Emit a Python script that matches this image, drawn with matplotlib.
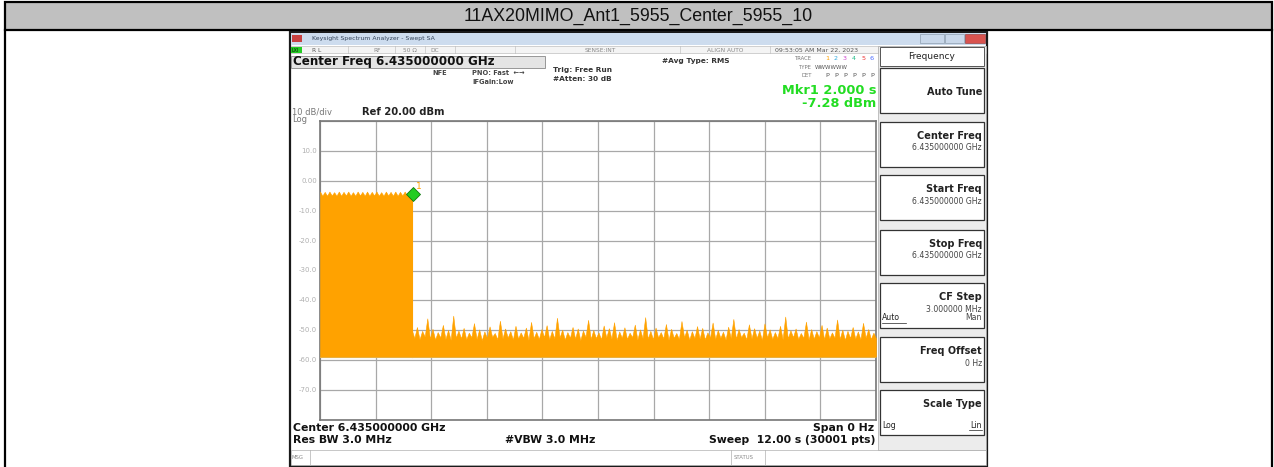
import numpy as np
import matplotlib
matplotlib.use("Agg")
import matplotlib.pyplot as plt
from matplotlib.patches import Rectangle

# ---- chart data ----
title = "11AX20MIMO_Ant1_5955_Center_5955_10"
sweep_time = 12.0          # s, x axis 0..12
ref_level = 20.0           # dBm
db_per_div = 10.0
ytick_vals = [10, 0, -10, -20, -30, -40, -50, -60, -70]
ytick_text = ["10.0", "0.00", "-10.0", "-20.0", "-30.0", "-40.0", "-50.0", "-60.0", "-70.0"]

burst_end = 1.98           # s, transmitter on from 0 to ~2 s
burst_top = [-3.6, -5.0, -3.7, -5.0, -3.6, -4.9, -3.8, -5.0, -3.6, -5.0,
             -3.7, -4.9, -3.6, -5.0, -3.8, -5.0, -3.6, -4.9, -3.7, -5.0,
             -3.6, -5.0, -3.7, -4.9, -3.6, -5.0, -3.8, -5.0, -3.6, -4.9,
             -3.7, -5.0, -3.6, -5.0, -3.7, -4.9, -3.6, -5.0, -3.8, -4.6]
noise_floor = -58.8
noise_top = [-49.8, -52.6, -48.9, -53.0, -50.2, -52.1, -46.0, -52.8, -49.5, -53.1,
             -50.6, -52.4, -48.2, -52.9, -49.9, -53.2, -45.1, -52.5, -50.1, -52.7,
             -49.2, -53.0, -50.8, -52.3, -47.6, -52.9, -49.7, -53.3, -50.4, -52.6,
             -48.7, -52.2, -50.9, -53.0, -46.8, -52.7, -49.4, -52.4, -50.3, -53.1,
             -48.5, -52.8, -50.7, -52.5, -49.1, -53.2, -47.2, -52.6, -50.5, -52.9,
             -49.6, -52.3, -48.3, -53.0, -50.2, -52.7, -45.8, -52.4, -49.8, -53.1,
             -50.6, -52.5, -48.9, -52.8, -49.4, -53.3, -50.1, -52.2, -46.5, -52.9,
             -49.9, -52.6, -50.7, -53.0, -48.4, -52.4, -49.3, -52.8, -47.3, -53.2,
             -50.4, -52.5, -49.0, -52.9, -50.8, -52.3, -48.1, -53.1, -49.7, -52.6,
             -45.6, -52.8, -50.2, -53.0, -49.1, -52.4, -50.6, -52.7, -47.9, -53.2,
             -49.5, -52.5, -50.9, -52.9, -46.9, -52.3, -49.8, -53.1, -50.3, -52.6,
             -48.6, -52.8, -49.2, -53.0, -50.7, -52.4, -47.4, -52.9, -49.9, -52.5,
             -50.5, -53.1, -48.8, -52.6, -46.2, -52.8, -49.6, -52.3, -50.8, -53.0,
             -48.0, -52.7, -49.3, -52.5, -50.1, -53.2, -47.7, -52.4, -49.7, -52.9,
             -50.6, -52.6, -48.5, -53.0, -45.4, -52.7, -50.0, -52.3, -49.4, -52.9,
             -50.9, -52.5, -47.1, -53.1, -49.6, -52.8, -50.3, -52.4, -48.2, -53.0,
             -49.1, -52.7, -50.7, -52.5, -46.4, -52.9, -49.8, -53.2, -50.2, -52.6,
             -48.9, -52.8, -50.4, -53.0, -47.5, -52.5, -49.6, -52.9, -50.8, -52.7]
mkr_time = 2.000
mkr_level = -7.28

orange = "#ffa200"
grid_c = "#a8a8a8"

W, H = 1274, 467
fig = plt.figure(figsize=(W / 100, H / 100), dpi=100)
bg = fig.add_axes([0, 0, 1, 1])
bg.set_xlim(0, W)
bg.set_ylim(H, 0)
bg.axis("off")


def txt(x, y, s, size=6, weight="normal", color="#222222", ha="left", **kw):
    bg.text(x, y, s, fontsize=size, fontweight=weight, color=color, ha=ha,
            va="center", family="DejaVu Sans", **kw)


def box(x0, y0, x1, y1, fc="white", ec="black", lw=1.0, z=1):
    bg.add_patch(Rectangle((x0, y0), x1 - x0, y1 - y0, fc=fc, ec=ec, lw=lw, zorder=z))


# ---- table frame ----
box(5, 2, 1272, 30, fc="#c0c0c0", ec="black", lw=1.6)
bg.plot([5, 5], [30, 467], color="black", lw=1.6)
bg.plot([1272, 1272], [30, 467], color="black", lw=1.6)
bg.text(638, 16.5, title, fontsize=12.8, ha="center", va="center", color="#111111",
        family=["Liberation Sans Narrow", "Liberation Sans", "DejaVu Sans"])

# ---- analyzer screenshot ----
box(290, 32, 987, 466, fc="white", ec="#1a1a1a", lw=1.6)
# window title bar
box(291, 33, 986, 45, fc="#cddcee", ec="none", lw=0)
box(292, 35, 302, 42, fc="#c84040", ec="none", lw=0, z=2)
txt(312, 38.5, "Keysight Spectrum Analyzer - Swept SA", size=4.4, color="#33445a")
box(920, 34, 944, 43, fc="#c9d8ea", ec="#8090a0", lw=0.4, z=2)
box(945, 34, 964, 43, fc="#c9d8ea", ec="#8090a0", lw=0.4, z=2)
box(965, 34, 985, 43, fc="#d9534f", ec="#8a3030", lw=0.4, z=2)
# status row
box(291, 46, 986, 53, fc="#f4f4f4", ec="#b0b0b0", lw=0.4)
box(291, 47, 302, 53, fc="#22cc22", ec="none", lw=0, z=2)
txt(292, 50, "LXI", size=3.4, color="#111111")
for sx in [348, 395, 425, 455, 515, 680, 770, 878]:
    bg.plot([sx, sx], [46, 53], color="#b8b8b8", lw=0.4)
txt(312, 50, "R L", size=4.2, color="#555555")
txt(373, 50, "RF", size=4.2, color="#888888")
txt(403, 50, "50 \u03a9", size=4.2, color="#888888")
txt(430, 50, "DC", size=4.2, color="#888888")
txt(585, 50, "SENSE:INT", size=4.2, color="#888888")
txt(707, 50, "ALIGN AUTO", size=4.2, color="#888888")
txt(775, 50, "09:53:05 AM Mar 22, 2023", size=4.5, color="#555555")

# header info
box(291, 56, 545, 68, fc="#e4e4e4", ec="#888888", lw=0.6)
txt(293, 62, "Center Freq 6.435000000 GHz", size=8.6, weight="bold", color="#111111")
txt(432, 73, "NFE", size=4.8, weight="bold", color="#444444")
txt(472, 73, "PNO: Fast  \u2190\u2192", size=4.8, weight="bold", color="#444444")
txt(472, 82, "IFGain:Low", size=4.8, weight="bold", color="#444444")
txt(553, 70, "Trig: Free Run", size=5.3, weight="bold", color="#333333")
txt(553, 79, "#Atten: 30 dB", size=5.3, weight="bold", color="#333333")
txt(662, 61, "#Avg Type: RMS", size=5.3, weight="bold", color="#333333")
txt(812, 59, "TRACE", size=3.8, color="#777777", ha="right")
txt(812, 67.5, "TYPE", size=3.8, color="#777777", ha="right")
txt(812, 75.5, "DET", size=3.8, color="#777777", ha="right")
tr_cols = ["#ffa200", "#33aadd", "#cc44cc", "#22bb88", "#ee3333", "#4466ff"]
for i, c in enumerate(tr_cols):
    txt(825 + i * 9, 59, str(i + 1), size=4.6, color=c)
    txt(825 + i * 9, 75.5, "P", size=4.6, color="#555555")
txt(815, 67.5, "WWWWWW", size=4.0, color="#555555")
txt(876, 91, "Mkr1 2.000 s", size=9.3, weight="bold", color="#22dd22", ha="right")
txt(876, 103.5, "-7.28 dBm", size=9.3, weight="bold", color="#22dd22", ha="right")
txt(292, 112, "10 dB/div", size=6, color="#777777")
txt(292, 119, "Log", size=6, color="#777777")
txt(362, 112, "Ref 20.00 dBm", size=7.2, weight="bold", color="#222222")

# bottom annotations
txt(293, 428, "Center 6.435000000 GHz", size=7.8, weight="bold", color="#111111")
txt(293, 440, "Res BW 3.0 MHz", size=7.8, weight="bold", color="#111111")
txt(505, 440, "#VBW 3.0 MHz", size=7.8, weight="bold", color="#111111")
txt(874, 428, "Span 0 Hz", size=7.8, weight="bold", color="#111111", ha="right")
txt(875, 440, "Sweep  12.00 s (30001 pts)", size=7.8, weight="bold", color="#111111", ha="right")
box(291, 450, 986, 465, fc="white", ec="#b0b0b0", lw=0.5)
bg.plot([310, 310], [450, 465], color="#b0b0b0", lw=0.5)
bg.plot([731, 731], [450, 465], color="#b0b0b0", lw=0.5)
bg.plot([765, 765], [450, 465], color="#b0b0b0", lw=0.5)
txt(292, 457.5, "MSG", size=3.8, color="#888888")
txt(734, 457.5, "STATUS", size=3.8, color="#888888")

# softkey panel
box(878, 46, 986, 450, fc="#ececec", ec="#aaaaaa", lw=0.5)
box(880, 47, 984, 66, fc="white", ec="#555555", lw=0.7)
txt(932, 56.5, "Frequency", size=6.5, color="#222222", ha="center")
keys = [("Auto Tune", None), ("Center Freq", "6.435000000 GHz"), ("Start Freq", "6.435000000 GHz"),
        ("Stop Freq", "6.435000000 GHz"), ("CF Step", "3.000000 MHz"), ("Freq Offset", "0 Hz"),
        ("Scale Type", None)]
tops = [68, 122, 175, 230, 283, 337, 390]
for (k, sub), top in zip(keys, tops):
    box(880, top, 984, top + 45, fc="white", ec="#333333", lw=0.9)
    if k == "Auto Tune":
        txt(982, top + 24, k, size=7, weight="bold", ha="right")
    else:
        txt(982, top + 14, k, size=7, weight="bold", ha="right")
    if sub:
        txt(982, top + 26, sub, size=5.6, color="#444444", ha="right")
txt(882, 318, "Auto", size=5.6, color="#222222")
bg.plot([882, 906], [322.5, 322.5], color="#222222", lw=0.5)
txt(982, 318, "Man", size=5.6, color="#444444", ha="right")
txt(882, 425, "Log", size=5.6, color="#222222")
txt(982, 425, "Lin", size=5.6, color="#222222", ha="right")
bg.plot([969, 982], [429.5, 429.5], color="#222222", lw=0.5)

# y tick labels (drawn left of grid, in light gray)
x0p, x1p, y0p, y1p = 320, 876, 121, 420
for v, s in zip(ytick_vals, ytick_text):
    yp = y0p + (ref_level - v) / db_per_div * (y1p - y0p) / 10
    txt(317, yp, s, size=5, color="#b0b0b0", ha="right")

# ---- trace axes ----
ax = fig.add_axes([x0p / W, 1 - y1p / H, (x1p - x0p) / W, (y1p - y0p) / H])
ax.set_xlim(0, sweep_time)
ax.set_ylim(ref_level - 10 * db_per_div, ref_level)
ax.set_xticks(np.linspace(0, sweep_time, 11))
ax.set_yticks(np.arange(ref_level - 10 * db_per_div, ref_level + 1, db_per_div))
ax.grid(True, color=grid_c, lw=0.9)
ax.tick_params(length=0, labelleft=False, labelbottom=False)
for sp in ax.spines.values():
    sp.set_color("#777777")
    sp.set_linewidth(1.2)
ax.set_axisbelow(True)

bt = np.linspace(0, burst_end, len(burst_top))
ax.fill_between(bt, noise_floor, burst_top, color=orange, lw=0.4, zorder=3)
nt = np.linspace(burst_end, sweep_time, len(noise_top))
ax.fill_between(nt, noise_floor, noise_top, color=orange, lw=0.4, zorder=3)
ax.plot([burst_end, burst_end], [noise_floor, burst_top[-1]], color=orange, lw=0.8, zorder=3)
# slightly darker speckled floor line
ax.plot([0, sweep_time], [noise_floor, noise_floor], color="#e8b040", lw=0.8, zorder=3)

# marker 1: green diamond sitting above the point
ax.plot(mkr_time, mkr_level + 3.0, marker="D", ms=7.5, mfc="#22cc22", mec="#117711", mew=0.6,
        zorder=5, clip_on=False)
ax.text(mkr_time + 0.07, mkr_level + 4.6, "1", color=orange, fontsize=6.5, zorder=5)

fig.savefig("out.png", dpi=100)
